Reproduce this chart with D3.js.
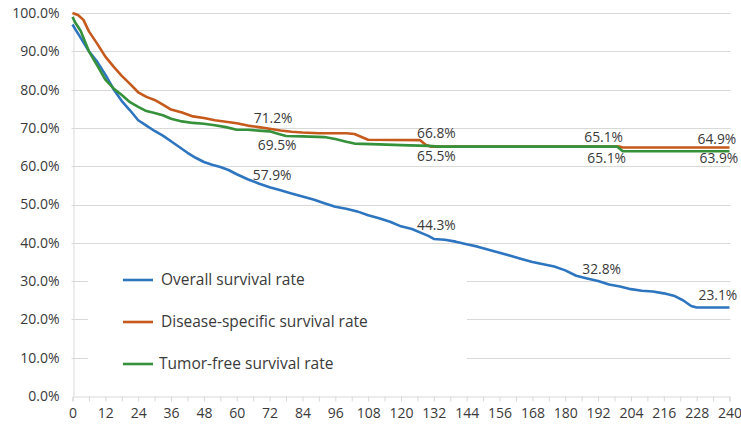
<!DOCTYPE html>
<html><head><meta charset="utf-8">
<script src="https://cdn.jsdelivr.net/npm/d3@7"></script>
<style>
html,body{margin:0;padding:0;background:#fff;}
svg{display:block;font-family:"Open Sans","Noto Sans",sans-serif;}
</style></head>
<body>
<svg id="chart" width="741" height="426"></svg>
<script>
// ---- data ----
const osMonths = [0,1,3,6,9,12,15,18,21,24,27,30,33,36,39,42,45,48,51,54,57,60,64,68,72,76,80,84,88,92,96,100,104,108,112,116,120,124,128,130,132,136,140,144,148,152,156,160,164,168,172,176,180,184,188,192,196,200,204,208,212,216,220,223,226,228,240];
const osRates  = [97.0,95.8,93.5,90.0,87.3,83.9,80.1,77.0,74.6,72.0,70.6,69.2,68.0,66.5,65.0,63.5,62.2,61.1,60.4,59.8,59.0,57.9,56.6,55.5,54.5,53.7,52.9,52.1,51.3,50.3,49.4,48.9,48.2,47.2,46.4,45.5,44.3,43.6,42.4,41.8,41.0,40.8,40.3,39.6,39.0,38.2,37.4,36.6,35.8,35.0,34.4,33.8,32.8,31.4,30.7,30.0,29.1,28.6,27.9,27.5,27.3,26.8,26.1,25.0,23.5,23.1,23.1];

const dssMonths = [0,2,4,6,9,12,15,18,21,24,27,30,33,36,40,44,48,52,56,60,64,68,72,76,80,84,90,100,103,106,108,127,129,131,200,201,240];
const dssRates  = [100,99.5,98.2,95.2,92.0,88.6,86.0,83.6,81.5,79.3,78.1,77.3,76.1,74.8,74.0,73.0,72.6,72.0,71.6,71.2,70.6,70.2,69.8,69.3,69.0,68.8,68.6,68.6,68.4,67.5,66.9,66.8,65.6,65.1,65.1,64.9,64.9];

const tfsMonths = [0,1,3,6,9,12,15,18,21,24,27,30,33,36,40,44,48,52,56,60,64,68,72,75,78,84,92,96,100,103,112,120,130,134,199,201,240];
const tfsRates  = [99.0,97.5,95.3,90.0,86.3,82.6,80.3,78.6,76.7,75.5,74.4,73.9,73.3,72.4,71.7,71.3,71.1,70.7,70.2,69.5,69.5,69.3,69.1,68.5,67.9,67.8,67.6,67.1,66.4,65.9,65.7,65.5,65.3,65.1,65.1,63.9,63.9];

const labelMonths = [60,120,180,240];
const osLabels  = [57.9,44.3,32.8,23.1];
const dssLabels = [71.2,66.8,65.1,64.9];
const tfsLabels = [69.5,65.5,65.1,63.9];

const xTickValues = d3.range(0,241,12);
const yTickValues = d3.range(0,101,10);
const seriesNames = ["Overall survival rate","Disease-specific survival rate","Tumor-free survival rate"];

// ---- layout ----
const svg = d3.select("#chart");
const x = d3.scaleLinear().domain([0,240]).range([72.5,729.5]);
const y = d3.scaleLinear().domain([0,100]).range([396,13]);
const textCol = "#3a3a3a", gridCol = "#d9d9d9";
const colors = ["#2e75c0","#c55a1c","#35913a"];

// gridlines
svg.append("g").selectAll("line").data(yTickValues.filter(v=>v>0)).join("line")
  .attr("x1",x(0)-1).attr("x2",x(240)+1)
  .attr("y1",d=>Math.round(y(d))+0.5).attr("y2",d=>Math.round(y(d))+0.5)
  .attr("stroke",gridCol).attr("stroke-width",1);

// y axis
const yAxis = svg.append("g").attr("transform",`translate(${Math.round(x(0))+0.5},0)`)
  .call(d3.axisLeft(y).tickValues(yTickValues).tickFormat(d=>d.toFixed(1)+"%").tickSize(0).tickPadding(14));
yAxis.select(".domain").attr("stroke",gridCol);
yAxis.selectAll("text").attr("fill",textCol).style("font-size","14px").style("font-family","'Open Sans',sans-serif");

// x axis
const xAxis = svg.append("g").attr("transform",`translate(0,${Math.round(y(0))+0.5})`)
  .call(d3.axisBottom(x).tickValues(d3.range(0,241,6)).tickFormat(d=>d%12===0?d:"").tickSize(5).tickPadding(7));
xAxis.select(".domain").attr("stroke",gridCol);
xAxis.selectAll(".tick line").attr("stroke",gridCol);
xAxis.selectAll("text").attr("fill",textCol).style("font-size","14px").style("font-family","'Open Sans',sans-serif");

// legend background (covers gridlines)
svg.append("rect").attr("x",88).attr("y",256).attr("width",379).attr("height",128).attr("fill","#fff");

// lines
const line = d3.line().x(d=>x(d[0])).y(d=>y(d[1])).curve(d3.curveLinear);
const series = [
  d3.zip(osMonths,osRates),
  d3.zip(dssMonths,dssRates),
  d3.zip(tfsMonths,tfsRates)
];
[0,1,2].forEach(i=>{
  svg.append("path").datum(series[i]).attr("d",line)
    .attr("fill","none").attr("stroke",colors[i]).attr("stroke-width",2.6)
    .attr("stroke-linejoin","round");
});

// data labels
const labelSets = [osLabels,dssLabels,tfsLabels];
const offsets = [
  [[16,1],[16,-1],[17,-1],[-31,-12]],
  [[17,-5],[16,-7],[19,-9],[-32,-8]],
  [[21,15],[16,11],[22,12],[-30,7]]
];
labelSets.forEach((vals,i)=>{
  svg.append("g").selectAll("text").data(vals).join("text")
    .attr("x",(d,j)=>x(labelMonths[j])+offsets[i][j][0])
    .attr("y",(d,j)=>y(d)+offsets[i][j][1])
    .attr("dy","0.35em")
    .attr("fill",textCol).style("font-size","13.8px")
    .text(d=>d.toFixed(1)+"%");
});

// legend
const leg = svg.append("g");
seriesNames.forEach((name,i)=>{
  const ly = 280 + i*42;
  leg.append("line").attr("x1",123).attr("x2",153).attr("y1",ly).attr("y2",ly)
    .attr("stroke",colors[i]).attr("stroke-width",2.6);
  leg.append("text").attr("x",i===2?159:161).attr("y",ly).attr("dy","0.35em")
    .attr("fill",textCol).style("font-size","15.5px").text(name);
});
</script>
</body></html>
